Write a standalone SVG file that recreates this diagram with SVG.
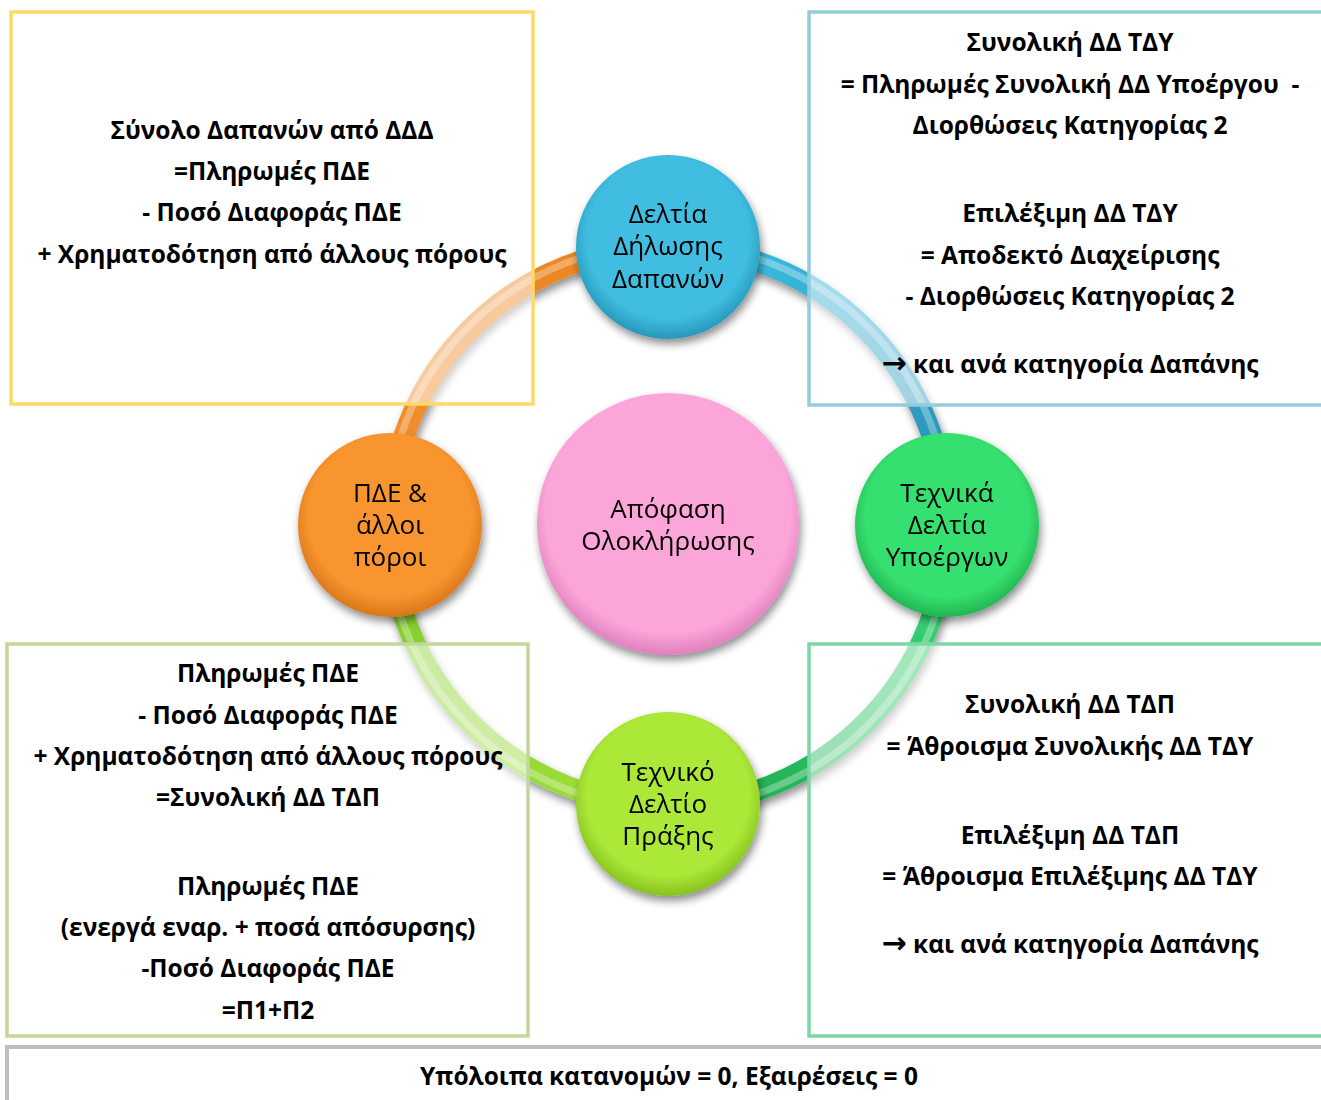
<svg xmlns="http://www.w3.org/2000/svg" width="1321" height="1100" viewBox="0 0 1321 1100">
<style>
.t{font-family:"Open Sans","Noto Sans","DejaVu Sans",sans-serif;font-weight:bold;font-size:24.5px;fill:#000;text-anchor:middle}
.n{font-family:"Open Sans","Noto Sans","DejaVu Sans",sans-serif;font-size:26px;fill:#000;text-anchor:middle}
.ar{font-family:"DejaVu Sans",sans-serif;font-size:30px;font-weight:bold}
.box{fill:#fff;fill-opacity:0.55;stroke-width:3.5}
.arc{fill:none;stroke-width:21;stroke-linecap:butt}
.hl{fill:none;stroke-width:7;stroke:#fff;stroke-opacity:0.3}
</style>
<defs>
<filter id="sh" x="-30%" y="-30%" width="160%" height="160%">
<feGaussianBlur in="SourceAlpha" stdDeviation="4"/>
<feOffset dx="2" dy="5" result="b"/>
<feComponentTransfer><feFuncA type="linear" slope="0.45"/></feComponentTransfer>
<feMerge><feMergeNode/><feMergeNode in="SourceGraphic"/></feMerge>
</filter>
<radialGradient id="gBlue" cx="50%" cy="45%" r="55%"><stop offset="0.8" stop-color="#3FBDE0"/><stop offset="1" stop-color="#2797BA"/></radialGradient>
<radialGradient id="gOrange" cx="50%" cy="45%" r="55%"><stop offset="0.8" stop-color="#F8952F"/><stop offset="1" stop-color="#D9761A"/></radialGradient>
<radialGradient id="gGreen" cx="50%" cy="45%" r="55%"><stop offset="0.8" stop-color="#36E06F"/><stop offset="1" stop-color="#22B552"/></radialGradient>
<radialGradient id="gLime" cx="50%" cy="45%" r="55%"><stop offset="0.8" stop-color="#ACE838"/><stop offset="1" stop-color="#86C21E"/></radialGradient>
<radialGradient id="gPink" cx="50%" cy="45%" r="55%"><stop offset="0.85" stop-color="#FBA5D9"/><stop offset="1" stop-color="#E07FBC"/></radialGradient>
<linearGradient id="aOrange" gradientUnits="userSpaceOnUse" x1="389" y1="526" x2="668" y2="247"><stop offset="0" stop-color="#F29030"/><stop offset="1" stop-color="#EA8420"/></linearGradient>
<linearGradient id="aBlue" gradientUnits="userSpaceOnUse" x1="668" y1="247" x2="947" y2="526"><stop offset="0" stop-color="#3EC3E6"/><stop offset="1" stop-color="#2A8FB2"/></linearGradient>
<linearGradient id="aGreen" gradientUnits="userSpaceOnUse" x1="947" y1="526" x2="668" y2="805"><stop offset="0" stop-color="#3AD778"/><stop offset="1" stop-color="#1FAA4F"/></linearGradient>
<linearGradient id="aLime" gradientUnits="userSpaceOnUse" x1="668" y1="805" x2="389" y2="526"><stop offset="0" stop-color="#A3E03C"/><stop offset="1" stop-color="#7CCB2A"/></linearGradient>
</defs>
<rect width="1321" height="1100" fill="#fff"/>

<g id="connectors">
<g filter="url(#sh)">
<path class="arc" stroke="url(#aOrange)" d="M389,526 A279,279 0 0,1 668,247"/>
<path class="arc" stroke="url(#aBlue)" d="M668,247 A279,279 0 0,1 947,526"/>
<path class="arc" stroke="url(#aGreen)" d="M947,526 A279,279 0 0,1 668,805"/>
<path class="arc" stroke="url(#aLime)" d="M668,805 A279,279 0 0,1 389,526"/>
</g>
<circle class="hl" cx="668" cy="526" r="282"/>
</g>

<g id="box-top-left"><rect class="box" x="11" y="12" width="522" height="392" stroke="#FFD966"/>
<text class="t" x="272" y="139">Σύνολο Δαπανών από ΔΔΔ</text>
<text class="t" x="272" y="180">=Πληρωμές ΠΔΕ</text>
<text class="t" x="272" y="221">- Ποσό Διαφοράς ΠΔΕ</text>
<text class="t" x="272" y="263">+ Χρηματοδότηση από άλλους πόρους</text>
</g>
<g id="box-top-right"><rect class="box" x="809" y="12" width="530" height="393" stroke="#92CDDC"/>
<text class="t" x="1070" y="51">Συνολική ΔΔ ΤΔΥ</text>
<text class="t" x="1070" y="93" xml:space="preserve">= Πληρωμές Συνολική ΔΔ Υποέργου  -</text>
<text class="t" x="1070" y="134">Διορθώσεις Κατηγορίας 2</text>
<text class="t" x="1070" y="222">Επιλέξιμη ΔΔ ΤΔΥ</text>
<text class="t" x="1070" y="264">= Αποδεκτό Διαχείρισης</text>
<text class="t" x="1070" y="305">- Διορθώσεις Κατηγορίας 2</text>
<text class="t" x="1070" y="373"><tspan class="ar">→</tspan> και ανά κατηγορία Δαπάνης</text>
</g>
<g id="box-bottom-left"><rect class="box" x="7" y="644" width="521" height="392" stroke="#C3D69B"/>
<text class="t" x="268" y="682">Πληρωμές ΠΔΕ</text>
<text class="t" x="268" y="724">- Ποσό Διαφοράς ΠΔΕ</text>
<text class="t" x="268" y="765">+ Χρηματοδότηση από άλλους πόρους</text>
<text class="t" x="268" y="806">=Συνολική ΔΔ ΤΔΠ</text>
<text class="t" x="268" y="895">Πληρωμές ΠΔΕ</text>
<text class="t" x="268" y="936">(ενεργά εναρ. + ποσά απόσυρσης)</text>
<text class="t" x="268" y="977">-Ποσό Διαφοράς ΠΔΕ</text>
<text class="t" x="268" y="1019">=Π1+Π2</text>
</g>
<g id="box-bottom-right"><rect class="box" x="809" y="644" width="530" height="392" stroke="#7FD5A6"/>
<text class="t" x="1070" y="713">Συνολική ΔΔ ΤΔΠ</text>
<text class="t" x="1070" y="755">= Άθροισμα Συνολικής ΔΔ ΤΔΥ</text>
<text class="t" x="1070" y="844">Επιλέξιμη ΔΔ ΤΔΠ</text>
<text class="t" x="1070" y="885">= Άθροισμα Επιλέξιμης ΔΔ ΤΔΥ</text>
<text class="t" x="1070" y="953"><tspan class="ar">→</tspan> και ανά κατηγορία Δαπάνης</text>
</g>
<g id="box-bottom"><rect x="7" y="1047" width="1330" height="70" fill="#fff" stroke="#BFBFBF" stroke-width="4"/>
<text class="t" x="669" y="1085">Υπόλοιπα κατανομών = 0, Εξαιρέσεις = 0</text>
</g>

<g id="node-center" filter="url(#sh)"><circle cx="668" cy="524" r="131" fill="url(#gPink)"/>
<text class="n" x="668" y="518">Απόφαση</text>
<text class="n" x="668" y="550">Ολοκλήρωσης</text>
</g>
<g id="node-top" filter="url(#sh)"><circle cx="668" cy="247" r="92" fill="url(#gBlue)"/>
<text class="n" x="668" y="223">Δελτία</text>
<text class="n" x="668" y="255">Δήλωσης</text>
<text class="n" x="668" y="288">Δαπανών</text>
</g>
<g id="node-left" filter="url(#sh)"><circle cx="390" cy="525" r="92" fill="url(#gOrange)"/>
<text class="n" x="390" y="502">ΠΔΕ &amp;</text>
<text class="n" x="390" y="534">άλλοι</text>
<text class="n" x="390" y="566">πόροι</text>
</g>
<g id="node-right" filter="url(#sh)"><circle cx="947" cy="525" r="92" fill="url(#gGreen)"/>
<text class="n" x="947" y="502">Τεχνικά</text>
<text class="n" x="947" y="534">Δελτία</text>
<text class="n" x="947" y="566">Υποέργων</text>
</g>
<g id="node-bottom" filter="url(#sh)"><circle cx="668" cy="804" r="92" fill="url(#gLime)"/>
<text class="n" x="668" y="781">Τεχνικό</text>
<text class="n" x="668" y="813">Δελτίο</text>
<text class="n" x="668" y="845">Πράξης</text>
</g>
</svg>
